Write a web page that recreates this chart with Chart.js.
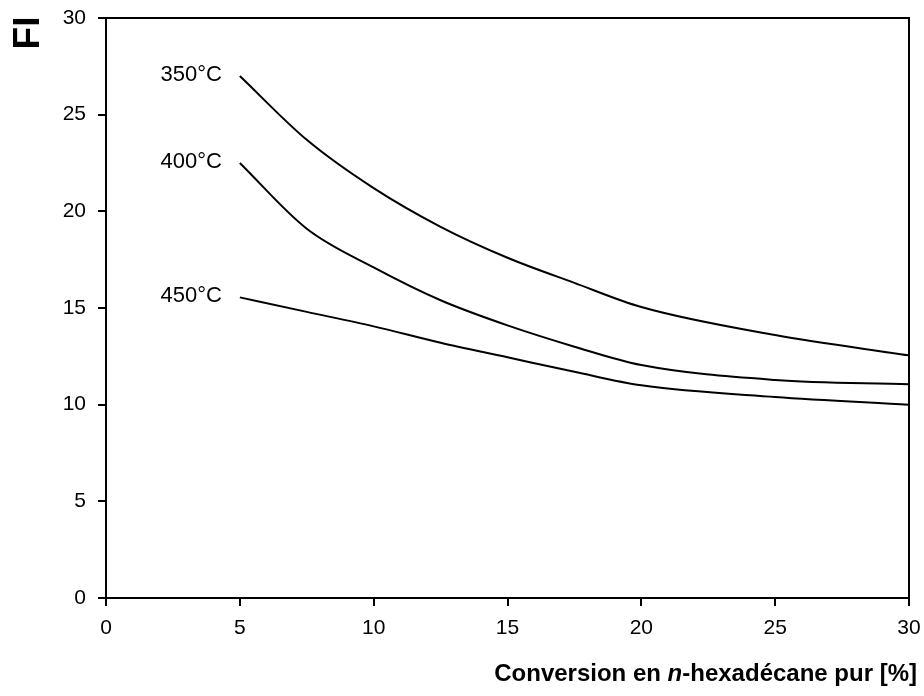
<!DOCTYPE html>
<html>
<head>
<meta charset="utf-8">
<script src="https://cdn.jsdelivr.net/npm/chart.js@4/dist/chart.umd.min.js"></script>
<style>
  html, body { margin: 0; padding: 0; background: #fff; }
  #wrap { width: 924px; height: 696px; position: relative; }
</style>
</head>
<body>
<div id="wrap"><canvas id="fiChart"></canvas></div>
<script>
// Conversion (%) at which each curve is read
const conversion = [5, 7.5, 10, 12.5, 15, 17.5, 20, 25, 30];

// FI values
const fi350 = [27.0, 23.7, 21.2, 19.2, 17.6, 16.3, 15.05, 13.6, 12.55];
const fi400 = [22.5, 19.1, 17.1, 15.4, 14.1, 13.0, 12.05, 11.28, 11.05];
const fi450 = [15.55, 14.8, 14.05, 13.2, 12.45, 11.7, 11.0, 10.4, 10.0];

const seriesNames = ['350°C', '400°C', '450°C'];
const xTicks = [0, 5, 10, 15, 20, 25, 30];
const yTicks = [0, 5, 10, 15, 20, 25, 30];

const toPoints = vals => vals.map((v, i) => ({ x: conversion[i], y: v }));

const lineStyle = {
    borderColor: '#000',
    borderWidth: 2,
    pointRadius: 0,
    fill: false,
    cubicInterpolationMode: 'monotone'
};

// box, curve labels and axis titles
const decorations = {
    id: 'decorations',
    afterDraw(chart) {
        const ctx = chart.ctx;
        const area = chart.chartArea;
        const xs = chart.scales.x;
        const ys = chart.scales.y;
        ctx.save();
        ctx.strokeStyle = '#000';
        ctx.lineWidth = 2;
        ctx.beginPath();
        ctx.moveTo(area.left, area.top);
        ctx.lineTo(area.right, area.top);
        ctx.lineTo(area.right, area.bottom);
        ctx.stroke();

        ctx.fillStyle = '#000';
        ctx.font = '22px "Liberation Sans", Arial, sans-serif';
        ctx.textAlign = 'right';
        ctx.textBaseline = 'middle';
        chart.data.datasets.forEach((ds, i) => {
            const p = ds.data[0];
            ctx.fillText(seriesNames[i], xs.getPixelForValue(p.x) - 18, ys.getPixelForValue(p.y) - 1);
        });

        // y title
        ctx.save();
        ctx.translate(39, 33);
        ctx.rotate(-Math.PI / 2);
        ctx.font = 'bold 37px "Liberation Sans", Arial, sans-serif';
        ctx.textAlign = 'center';
        ctx.textBaseline = 'alphabetic';
        ctx.fillText('FI', 0, 0);
        ctx.restore();

        // x title with italic n
        const parts = [
            ['bold 24px "Liberation Sans", Arial, sans-serif', 'Conversion en '],
            ['italic bold 24px "Liberation Sans", Arial, sans-serif', 'n'],
            ['bold 24px "Liberation Sans", Arial, sans-serif', '-hexadécane pur [%]']
        ];
        let total = 0;
        parts.forEach(([f, t]) => { ctx.font = f; total += ctx.measureText(t).width; });
        let x = 917 - total;
        ctx.textAlign = 'left';
        ctx.textBaseline = 'alphabetic';
        parts.forEach(([f, t]) => {
            ctx.font = f;
            ctx.fillText(t, x, 681);
            x += ctx.measureText(t).width;
        });
        ctx.restore();
    }
};

const axisCommon = {
    type: 'linear',
    min: 0,
    max: 30,
    grid: {
        display: true,
        drawOnChartArea: false,
        drawTicks: true,
        tickLength: 8,
        color: '#000',
        lineWidth: 2
    },
    border: { display: true, color: '#000', width: 2 },
    ticks: {
        stepSize: 5,
        color: '#000',
        font: { family: '"Liberation Sans", Arial, sans-serif', size: 21 }
    }
};

new Chart(document.getElementById('fiChart'), {
    type: 'line',
    data: {
        datasets: [
            { label: seriesNames[0], data: toPoints(fi350), ...lineStyle },
            { label: seriesNames[1], data: toPoints(fi400), ...lineStyle },
            { label: seriesNames[2], data: toPoints(fi450), ...lineStyle }
        ]
    },
    options: {
        responsive: true,
        maintainAspectRatio: false,
        animation: false,
        layout: { padding: { top: 18, right: 15, left: 0, bottom: 0 } },
        plugins: {
            legend: { display: false },
            tooltip: { enabled: false }
        },
        scales: {
            x: {
                ...axisCommon,
                ticks: { ...axisCommon.ticks, padding: 10 },
                afterBuildTicks: scale => { scale.ticks = xTicks.map(v => ({ value: v })); },
                afterFit: scale => {
                    scale.height = 98;
                    scale.paddingLeft = 0;
                    scale.paddingRight = 0;
                }
            },
            y: {
                ...axisCommon,
                ticks: { ...axisCommon.ticks, padding: 12 },
                afterBuildTicks: scale => { scale.ticks = yTicks.map(v => ({ value: v })); },
                afterFit: scale => {
                    scale.width = 106;
                    scale.paddingTop = 0;
                    scale.paddingBottom = 0;
                }
            }
        }
    },
    plugins: [decorations]
});
</script>
</body>
</html>
